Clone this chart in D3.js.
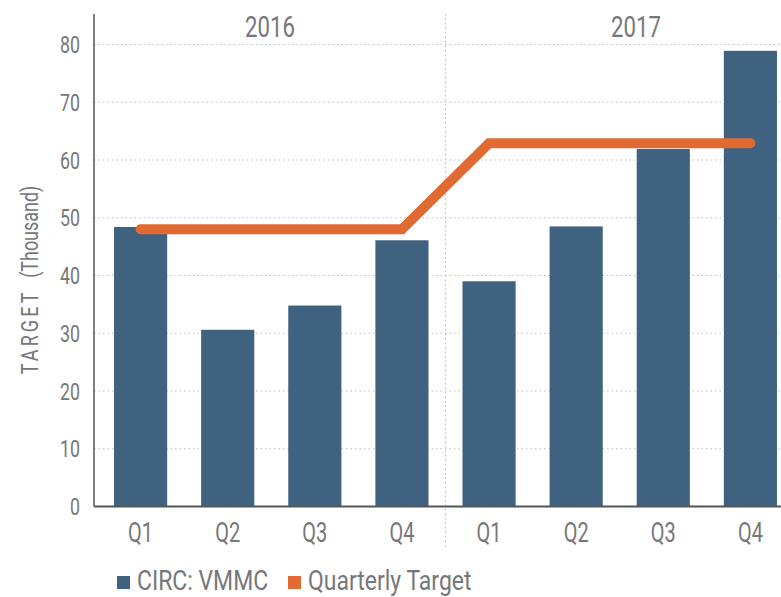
<!DOCTYPE html>
<html>
<head>
<meta charset="utf-8">
<script src="https://d3js.org/d3.v7.min.js"></script>
<style>
  body { margin: 0; background: #fff; }
  text { font-family: Roboto, "Liberation Sans", sans-serif; fill: #76777a; }
</style>
</head>
<body>
<div id="chart"></div>
<script>
// chart values
const years = ["2016", "2017"];
const quarters = ["Q1", "Q2", "Q3", "Q4"];
const categories = ["2016-Q1", "2016-Q2", "2016-Q3", "2016-Q4", "2017-Q1", "2017-Q2", "2017-Q3", "2017-Q4"];
const circValues = [48.4, 30.6, 34.8, 46.1, 39.0, 48.5, 61.9, 78.9];
const targetValues = [48, 48, 48, 48, 62.9, 62.9, 62.9, 62.9];
const yTicks = [0, 10, 20, 30, 40, 50, 60, 70, 80];

const W = 781, H = 597;
const margin = {top: 14, left: 94};
const barColor = "#3f6281";
const lineColor = "#e06a31";

const svg = d3.select("#chart").append("svg")
    .attr("width", W)
    .attr("height", H);

const xScale = d3.scaleBand()
    .domain(categories)
    .range([margin.left, 797])
    .paddingInner(0.39)
    .paddingOuter(0.23);

const yScale = d3.scaleLinear()
    .domain([0, 80])
    .range([506.5, 44.5]);

// put a text at x,y squeezed horizontally (condensed look)
function place(x, y, sx) {
    return `translate(${x},${y}) scale(${sx || 0.74},1)`;
}

// gridlines
svg.append("g")
    .selectAll("line")
    .data(yTicks.filter(d => d > 0))
    .enter().append("line")
    .attr("x1", margin.left)
    .attr("x2", W)
    .attr("y1", d => yScale(d))
    .attr("y2", d => yScale(d))
    .attr("stroke", "#bdbdbd")
    .attr("stroke-width", 1.2)
    .attr("stroke-dasharray", "1.5,3");

// year divider
let divX = (xScale(categories[3]) + xScale.bandwidth() + xScale(categories[4])) / 2;
svg.append("line")
    .attr("x1", divX).attr("x2", divX)
    .attr("y1", margin.top).attr("y2", 548)
    .attr("stroke", "#bdbdbd")
    .attr("stroke-width", 1.2)
    .attr("stroke-dasharray", "1.5,3");

// bars
svg.selectAll(".bar")
    .data(circValues)
    .enter().append("rect")
    .attr("class", "bar")
    .attr("x", (d, i) => xScale(categories[i]))
    .attr("y", d => yScale(d))
    .attr("width", xScale.bandwidth())
    .attr("height", d => yScale(0) - yScale(d))
    .attr("fill", barColor);

// target line
let line = d3.line()
    .x((d, i) => xScale(categories[i]) + xScale.bandwidth() / 2)
    .y(d => yScale(d));

svg.append("path")
    .datum(targetValues)
    .attr("d", line)
    .attr("fill", "none")
    .attr("stroke", lineColor)
    .attr("stroke-width", 10)
    .attr("stroke-linecap", "round");

// axes lines
svg.append("line")
    .attr("x1", margin.left).attr("x2", margin.left)
    .attr("y1", margin.top).attr("y2", yScale(0))
    .attr("stroke", "#555").attr("stroke-width", 1.5);
svg.append("line")
    .attr("x1", margin.left).attr("x2", W)
    .attr("y1", yScale(0)).attr("y2", yScale(0))
    .attr("stroke", "#555").attr("stroke-width", 2);

// y tick labels
svg.append("g")
    .selectAll("text")
    .data(yTicks)
    .enter().append("text")
    .attr("transform", d => place(80, yScale(d) + 8.5))
    .attr("text-anchor", "end")
    .style("font-size", "24px")
    .text(d => d);

// x tick labels
svg.append("g")
    .selectAll("text")
    .data(categories)
    .enter().append("text")
    .attr("transform", d => place(xScale(d) + xScale.bandwidth() / 2, 542))
    .attr("text-anchor", "middle")
    .style("font-size", "27px")
    .text((d, i) => quarters[i % 4]);

// year labels
const yearX = [270, 636];
svg.append("g")
    .selectAll("text")
    .data(years)
    .enter().append("text")
    .attr("transform", (d, i) => place(yearX[i], 37))
    .attr("text-anchor", "middle")
    .style("font-size", "30px")
    .text(d => d);

// y axis title
let yTitle = svg.append("text")
    .attr("transform", `translate(38, 280) rotate(-90) scale(0.78,1)`)
    .attr("text-anchor", "middle")
    .style("font-size", "23px");
yTitle.append("tspan").style("letter-spacing", "4px").text("TARGET");
yTitle.append("tspan").attr("dx", 15).text("(Thousand)");

// legend
const legendItems = [
    {label: "CIRC: VMMC", color: barColor, x: 117},
    {label: "Quarterly Target", color: lineColor, x: 288}
];
let legend = svg.append("g")
    .selectAll("g")
    .data(legendItems)
    .enter().append("g");
legend.append("rect")
    .attr("x", d => d.x)
    .attr("y", 576)
    .attr("width", 13)
    .attr("height", 13)
    .attr("fill", d => d.color);
legend.append("text")
    .attr("transform", d => place(d.x + 20, 590, 0.82))
    .style("font-size", "28px")
    .text(d => d.label);
</script>
</body>
</html>
